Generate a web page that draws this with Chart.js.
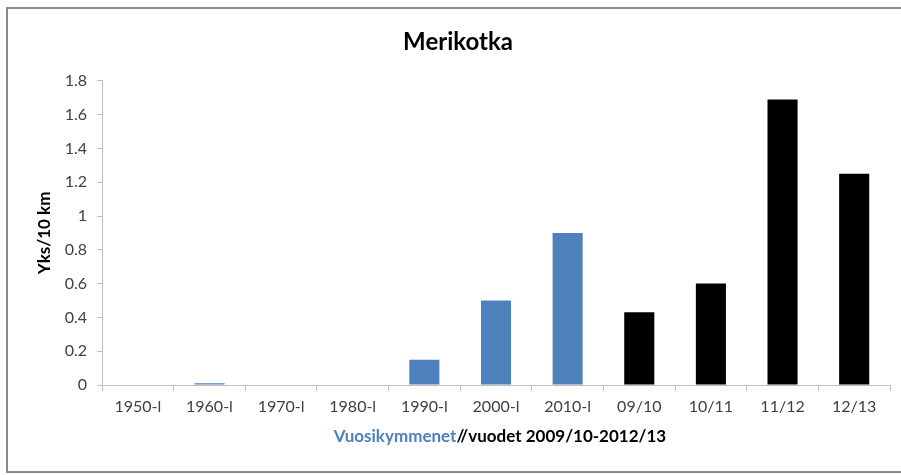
<!DOCTYPE html>
<html>
<head>
<meta charset="utf-8">
<script src="https://cdn.jsdelivr.net/npm/chart.js@4.4.0/dist/chart.umd.min.js"></script>
<style>
  html, body { margin: 0; padding: 0; background: #fff; }
  #wrap { width: 901px; height: 475px; position: relative; }
</style>
</head>
<body>
<div id="wrap"><canvas id="chart" width="901" height="475"></canvas></div>
<script>
// data
const categories = ['1950-l', '1960-l', '1970-l', '1980-l', '1990-l', '2000-l', '2010-l', '09/10', '10/11', '11/12', '12/13'];
const values = [0, 0.01, 0, 0, 0.15, 0.5, 0.9, 0.43, 0.6, 1.69, 1.25];
const decadeCount = 7; // first seven bars are decades (blue), rest are seasons (black)

const blue = '#4f81bd';
const fontFamily = 'Lato, "Open Sans", sans-serif';

// frame line around the chart (left, top, bottom; the right edge is cut off)
const framePlugin = {
    id: 'frame',
    beforeDraw(chart) {
        const ctx = chart.ctx;
        ctx.save();
        ctx.strokeStyle = '#8a8a8a';
        ctx.lineWidth = 2;
        ctx.beginPath();
        ctx.moveTo(901, 8);
        ctx.lineTo(7, 8);
        ctx.lineTo(7, 472);
        ctx.lineTo(901, 472);
        ctx.stroke();
        ctx.restore();
    }
};

// two-colour x axis title
const xTitlePlugin = {
    id: 'xTitle',
    afterDraw(chart) {
        const ctx = chart.ctx;
        const a = chart.chartArea;
        const part1 = 'Vuosikymmenet';
        const part2 = '//vuodet 2009/10-2012/13';
        ctx.save();
        ctx.font = 'bold 17px ' + fontFamily;
        ctx.textBaseline = 'middle';
        const w1 = ctx.measureText(part1).width;
        const w2 = ctx.measureText(part2).width;
        const x0 = (a.left + a.right) / 2 + 4 - (w1 + w2) / 2;
        const y = 437;
        ctx.fillStyle = blue;
        ctx.fillText(part1, x0, y);
        ctx.fillStyle = '#000';
        ctx.fillText(part2, x0 + w1, y);
        ctx.restore();
    }
};

new Chart(document.getElementById('chart').getContext('2d'), {
    type: 'bar',
    data: {
        labels: categories,
        datasets: [{
            data: values,
            backgroundColor: values.map((v, i) => i < decadeCount ? blue : '#000000'),
            borderWidth: 0,
            categoryPercentage: 1,
            barPercentage: 0.42
        }]
    },
    options: {
        responsive: false,
        animation: false,
        layout: { padding: { left: 26, right: 11, top: 16, bottom: 50 } },
        plugins: {
            legend: { display: false },
            tooltip: { enabled: false },
            title: {
                display: true,
                text: 'Merikotka',
                color: '#000',
                font: { family: fontFamily, size: 24, weight: 'bold' },
                padding: { top: 12, bottom: 24 }
            }
        },
        scales: {
            x: {
                grid: { display: true, drawOnChartArea: false, drawTicks: true, tickLength: 6, color: '#bfbfbf', offset: true },
                border: { display: true, color: '#bfbfbf' },
                ticks: { color: '#404040', font: { family: fontFamily, size: 16 }, padding: 6, maxRotation: 0, autoSkip: false },
                afterFit(scale) { scale.height = 40; }
            },
            y: {
                min: 0,
                max: 1.8,
                ticks: {
                    stepSize: 0.2,
                    color: '#404040',
                    font: { family: fontFamily, size: 16 },
                    padding: 10,
                    callback: v => String(Math.round(v * 10) / 10)
                },
                grid: { display: true, drawOnChartArea: false, drawTicks: true, tickLength: 5, color: '#bfbfbf' },
                border: { display: true, color: '#bfbfbf' },
                title: {
                    display: true,
                    text: 'Yks/10 km',
                    color: '#000',
                    font: { family: fontFamily, size: 17, weight: 'bold' },
                    padding: { top: 8, bottom: 0 }
                },
                afterFit(scale) { scale.width = 76; }
            }
        }
    },
    plugins: [framePlugin, xTitlePlugin]
});
</script>
</body>
</html>
